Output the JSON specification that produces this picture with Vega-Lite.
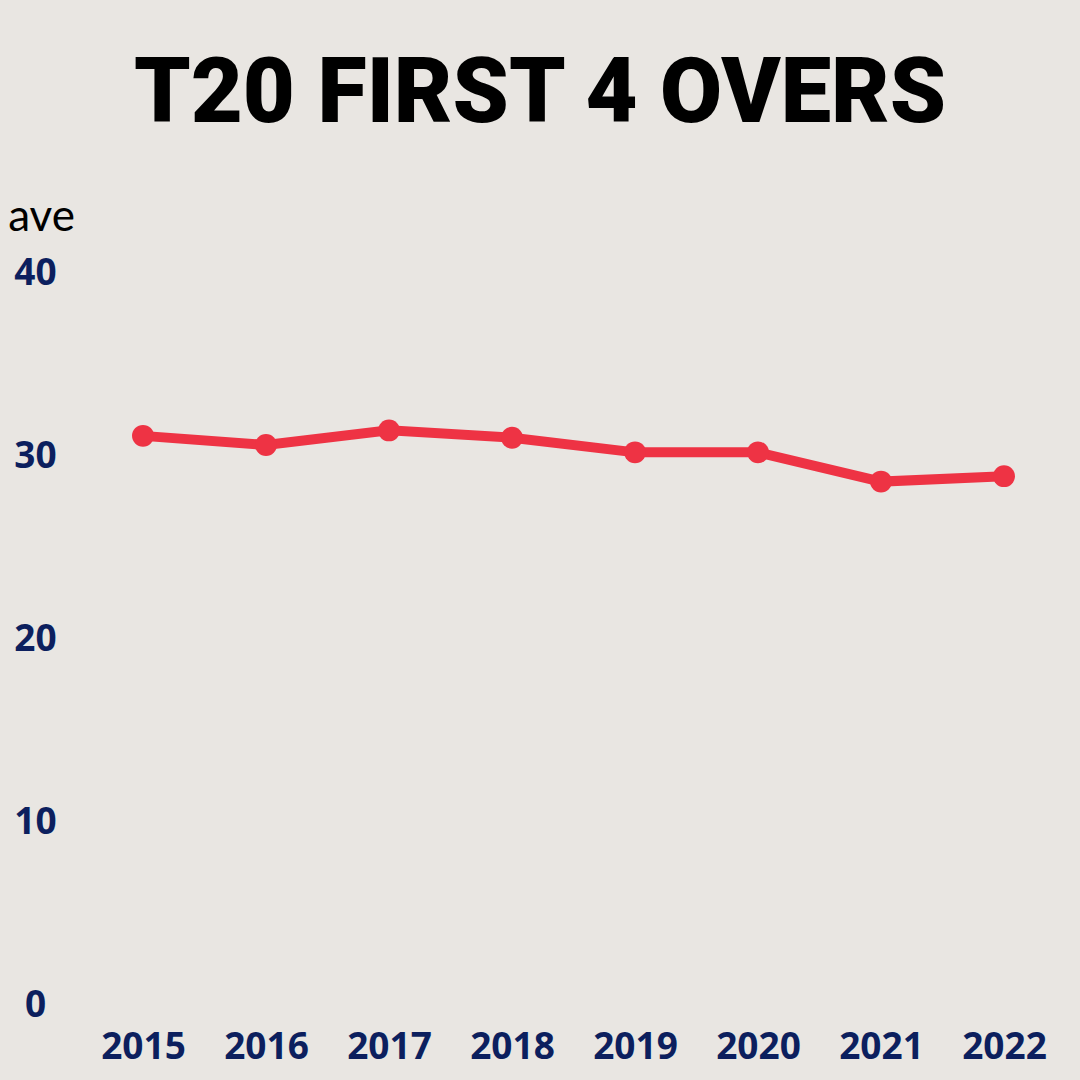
{
  "$schema": "https://vega.github.io/schema/vega-lite/v6.json",
  "width": 1080,
  "height": 1080,
  "autosize": "none",
  "padding": 0,
  "background": "#e9e6e2",
  "title": {
    "text": "T20 FIRST 4 OVERS",
    "anchor": "middle",
    "frame": "group",
    "font": "Roboto",
    "fontWeight": 900,
    "fontSize": 90,
    "color": "#000000",
    "baseline": "alphabetic",
    "offset": 0,
    "dy": 212
  },
  "config": {"view": {"stroke": null}},
  "data": {
    "values": [
      {"year": 2015, "ave": 31.1},
      {"year": 2016, "ave": 30.6},
      {"year": 2017, "ave": 31.4},
      {"year": 2018, "ave": 31.0},
      {"year": 2019, "ave": 30.2},
      {"year": 2020, "ave": 30.2},
      {"year": 2021, "ave": 28.6},
      {"year": 2022, "ave": 28.9}
    ]
  },
  "encoding": {
    "x": {
      "field": "year",
      "type": "quantitative",
      "scale": {"domain": [2015, 2022], "range": [143, 1004], "nice": false, "zero": false},
      "axis": {
        "values": [2015, 2016, 2017, 2018, 2019, 2020, 2021, 2022],
        "format": "d",
        "title": null,
        "offset": -33,
        "domain": false,
        "ticks": false,
        "grid": false,
        "labelPadding": 0,
        "labelBaseline": "middle",
        "labelAlign": "center",
        "labelFont": "Open Sans",
        "labelFontWeight": "bold",
        "labelFontSize": 37,
        "labelColor": "#0c1f5e"
      }
    },
    "y": {
      "field": "ave",
      "type": "quantitative",
      "scale": {"domain": [0, 40], "range": [1005, 273], "nice": false},
      "axis": {
        "values": [0, 10, 20, 30, 40],
        "title": "ave",
        "titleAngle": 0,
        "titleX": 6,
        "titleY": 230,
        "titleAlign": "center",
        "titleBaseline": "alphabetic",
        "titleFont": "Lato",
        "titleFontWeight": "normal",
        "titleFontSize": 44,
        "titleColor": "#000000",
        "offset": -35,
        "domain": false,
        "ticks": false,
        "grid": false,
        "labelPadding": 0,
        "labelAlign": "center",
        "labelBaseline": "middle",
        "labelFont": "Open Sans",
        "labelFontWeight": "bold",
        "labelFontSize": 37,
        "labelColor": "#0c1f5e"
      }
    }
  },
  "layer": [
    {"mark": {"type": "line", "color": "#ee3344", "strokeWidth": 10}},
    {"mark": {"type": "point", "filled": true, "color": "#ee3344", "opacity": 1, "size": 480}}
  ]
}
